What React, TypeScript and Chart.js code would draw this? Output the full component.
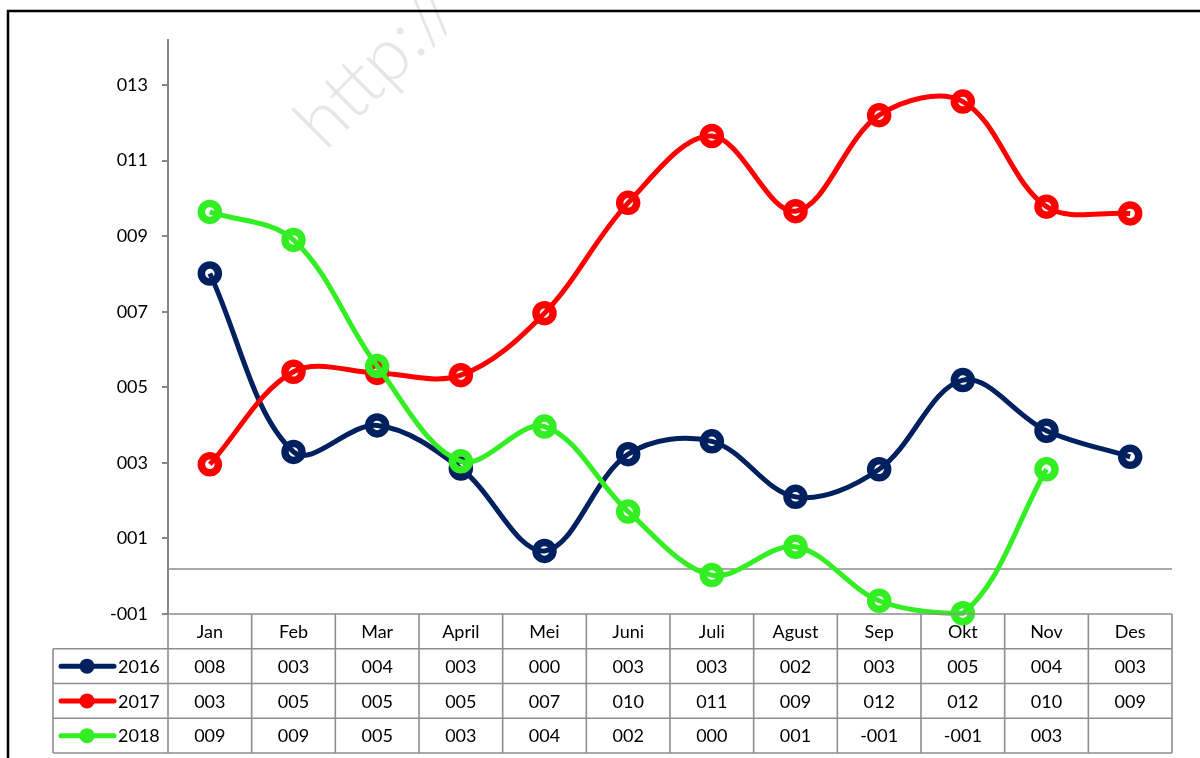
import React, { useEffect, useRef } from "react";
import { Chart, registerables } from "chart.js";

Chart.register(...registerables);

const categories = ["Jan", "Feb", "Mar", "April", "Mei", "Juni", "Juli", "Agust", "Sep", "Okt", "Nov", "Des"];
const seriesNames = ["2016", "2017", "2018"];
const values2016 = [7.82, 3.1, 3.8, 2.66, 0.48, 3.04, 3.38, 1.91, 2.64, 5.0, 3.66, 2.97];
const values2017 = [2.77, 5.22, 5.19, 5.13, 6.77, 9.69, 11.46, 9.47, 12.01, 12.37, 9.59, 9.41];
const values2018: (number | null)[] = [9.45, 8.71, 5.37, 2.85, 3.77, 1.52, -0.16, 0.59, -0.84, -1.17, 2.64, null];
const seriesColors = ["#002060", "#FF0000", "#33EE22"];
const yTickValues = [-1.19, 0.81, 2.81, 4.81, 6.81, 8.81, 10.81, 12.81];
const yTickLabels = ["-001", "001", "003", "005", "007", "009", "011", "013"];
const watermarkText = "http://";

const FONT = "Lato";

function fmt(v: number | null): string {
  if (v === null || v === undefined) return "";
  const r = Math.round(v);
  const s = String(Math.abs(r)).padStart(3, "0");
  return r < 0 ? "-" + s : s;
}

const tablePlugin = {
  id: "excelTable",
  beforeDraw(chart: any) {
    const ctx = chart.ctx;
    ctx.save();
    ctx.fillStyle = "#ffffff";
    ctx.fillRect(0, 0, chart.width, chart.height);
    ctx.translate(325, 152);
    ctx.rotate(-Math.PI / 4);
    ctx.font = `300 74px ${FONT}`;
    ctx.fillStyle = "#e6e6e6";
    ctx.textBaseline = "alphabetic";
    ctx.textAlign = "left";
    ctx.fillText(watermarkText, 0, 0);
    ctx.restore();
  },
  beforeDatasetsDraw(chart: any) {
    const ctx = chart.ctx;
    const { left, right } = chart.chartArea;
    const y0 = chart.scales.y.getPixelForValue(0);
    ctx.save();
    ctx.strokeStyle = "#8c8c8c";
    ctx.lineWidth = 1.6;
    ctx.beginPath();
    ctx.moveTo(left, y0);
    ctx.lineTo(right, y0);
    ctx.stroke();
    ctx.restore();
  },
  afterDraw(chart: any) {
    const ctx = chart.ctx;
    const xs = chart.scales.x;
    const { left, right, bottom } = chart.chartArea;
    const nRows = 4;
    const rowH = 34.75;
    const tableLeft = 53;
    const colW = (right - left) / categories.length;
    ctx.save();
    ctx.strokeStyle = "#8e8e8e";
    ctx.lineWidth = 1.6;
    ctx.beginPath();
    for (let r = 0; r <= nRows; r++) {
      const yy = bottom + r * rowH;
      ctx.moveTo(r === 0 ? left : tableLeft, yy);
      ctx.lineTo(right, yy);
    }
    for (let i = 0; i <= categories.length; i++) {
      const xx = left + i * colW;
      ctx.moveTo(xx, bottom);
      ctx.lineTo(xx, bottom + nRows * rowH);
    }
    ctx.moveTo(tableLeft, bottom + rowH);
    ctx.lineTo(tableLeft, bottom + nRows * rowH);
    ctx.stroke();

    ctx.fillStyle = "#000";
    ctx.font = `18px ${FONT}`;
    ctx.textAlign = "center";
    ctx.textBaseline = "middle";
    categories.forEach((c, i) => {
      ctx.fillText(c, xs.getPixelForValue(i), bottom + rowH / 2 + 1);
    });
    const all = [values2016, values2017, values2018];
    all.forEach((vals, r) => {
      const cy = bottom + (r + 1.5) * rowH + 1;
      vals.forEach((v, i) => {
        ctx.fillText(fmt(v as any), xs.getPixelForValue(i), cy);
      });
      // legend key
      ctx.strokeStyle = seriesColors[r];
      ctx.lineWidth = 5;
      ctx.lineCap = "round";
      ctx.beginPath();
      ctx.moveTo(61, cy - 1);
      ctx.lineTo(114, cy - 1);
      ctx.stroke();
      ctx.fillStyle = seriesColors[r];
      ctx.beginPath();
      ctx.arc(87, cy - 1, 7.5, 0, Math.PI * 2);
      ctx.fill();
      ctx.fillStyle = "#000";
      ctx.textAlign = "left";
      ctx.fillText(seriesNames[r], 118, cy);
      ctx.textAlign = "center";
    });

    // outer frame
    ctx.strokeStyle = "#000";
    ctx.lineWidth = 2.5;
    ctx.strokeRect(8, 11, 1400, 1000);
    ctx.restore();
  },
};

export default function App() {
  const canvasRef = useRef<HTMLCanvasElement | null>(null);

  useEffect(() => {
    if (!canvasRef.current) return;
    const mk = (label: string, data: (number | null)[], color: string, order: number) => ({
      label,
      data,
      borderColor: color,
      backgroundColor: color,
      borderWidth: 5,
      pointRadius: 8.5,
      pointBorderWidth: 7.5,
      pointBackgroundColor: "rgba(0,0,0,0)",
      pointBorderColor: color,
      tension: 0.35,
      clip: false as any,
      order,
      spanGaps: false,
    });
    const chart = new Chart(canvasRef.current, {
      type: "line",
      data: {
        labels: categories,
        datasets: [
          mk(seriesNames[0], values2016, seriesColors[0], 2),
          mk(seriesNames[1], values2017, seriesColors[1], 1),
          mk(seriesNames[2], values2018, seriesColors[2], 0),
        ],
      },
      options: {
        responsive: false,
        animation: false,
        layout: { padding: { top: 40, right: 28, left: 0, bottom: 0 } },
        plugins: { legend: { display: false }, tooltip: { enabled: false } },
        scales: {
          x: {
            type: "category",
            offset: true,
            grid: { display: false },
            border: { display: false },
            ticks: { display: false },
            afterFit: (s: any) => {
              s.height = 144;
            },
          },
          y: {
            min: -1.19,
            max: 14,
            afterBuildTicks: (s: any) => {
              s.ticks = yTickValues.map((v) => ({ value: v }));
            },
            ticks: {
              autoSkip: false,
              callback: (_v: any, i: number) => yTickLabels[i],
              font: { family: FONT, size: 18 },
              color: "#000",
              padding: 14,
            },
            grid: { drawOnChartArea: false, color: "#868686", lineWidth: 2, tickLength: 6 },
            border: { color: "#868686", width: 2 },
            afterFit: (s: any) => {
              s.width = 168;
            },
          },
        },
      },
      plugins: [tablePlugin],
    } as any);
    return () => chart.destroy();
  }, []);

  return (
    <div style={{ position: "absolute", left: 0, top: 0, width: 1200, height: 758, background: "#fff" }}>
      <canvas ref={canvasRef} width={1200} height={758} style={{ display: "block" }} />
    </div>
  );
}
